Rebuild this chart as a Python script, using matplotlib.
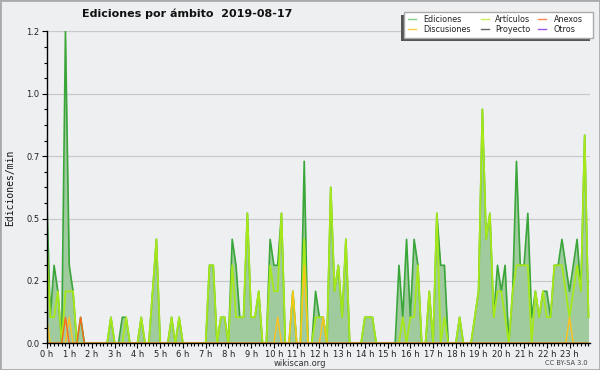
import numpy as np
import matplotlib
matplotlib.use("Agg")
import matplotlib.pyplot as plt
from matplotlib.patches import Rectangle
from matplotlib.lines import Line2D

# ---- data: edits per minute, 10-minute bins (0:00 ... 23:50) ----
ediciones = [
    0.6, 0.1, 0.3, 0.2, 0.0, 1.2, 0.3, 0.2, 0.0, 0.1, 0.0, 0.0,
    0.0, 0.0, 0.0, 0.0, 0.0, 0.1, 0.0, 0.0, 0.1, 0.1, 0.0, 0.0,
    0.0, 0.1, 0.0, 0.0, 0.2, 0.4, 0.0, 0.0, 0.0, 0.1, 0.0, 0.1,
    0.0, 0.0, 0.0, 0.0, 0.0, 0.0, 0.0, 0.3, 0.3, 0.0, 0.1, 0.1,
    0.0, 0.4, 0.3, 0.1, 0.1, 0.5, 0.1, 0.1, 0.2, 0.0, 0.0, 0.4,
    0.3, 0.3, 0.5, 0.0, 0.0, 0.2, 0.0, 0.0, 0.7, 0.0, 0.0, 0.2,
    0.1, 0.1, 0.0, 0.6, 0.2, 0.3, 0.1, 0.4, 0.0, 0.0, 0.0, 0.0,
    0.1, 0.1, 0.1, 0.0, 0.0, 0.0, 0.0, 0.0, 0.0, 0.3, 0.1, 0.4,
    0.1, 0.4, 0.3, 0.0, 0.0, 0.2, 0.0, 0.5, 0.3, 0.3, 0.0, 0.0,
    0.0, 0.1, 0.0, 0.0, 0.0, 0.1, 0.2, 0.9, 0.4, 0.5, 0.1, 0.3,
    0.2, 0.3, 0.0, 0.2, 0.7, 0.3, 0.3, 0.5, 0.1, 0.2, 0.1, 0.2,
    0.2, 0.1, 0.3, 0.3, 0.4, 0.3, 0.2, 0.3, 0.4, 0.2, 0.8, 0.1,
]
articulos = [
    0.4, 0.1, 0.1, 0.2, 0.0, 0.2, 0.2, 0.2, 0.0, 0.0, 0.0, 0.0,
    0.0, 0.0, 0.0, 0.0, 0.0, 0.1, 0.0, 0.0, 0.0, 0.1, 0.0, 0.0,
    0.0, 0.1, 0.0, 0.0, 0.2, 0.4, 0.0, 0.0, 0.0, 0.1, 0.0, 0.1,
    0.0, 0.0, 0.0, 0.0, 0.0, 0.0, 0.0, 0.3, 0.3, 0.0, 0.1, 0.1,
    0.0, 0.3, 0.1, 0.1, 0.1, 0.5, 0.1, 0.1, 0.2, 0.0, 0.0, 0.3,
    0.2, 0.2, 0.5, 0.0, 0.0, 0.2, 0.0, 0.0, 0.4, 0.0, 0.0, 0.1,
    0.1, 0.1, 0.0, 0.6, 0.2, 0.3, 0.1, 0.4, 0.0, 0.0, 0.0, 0.0,
    0.1, 0.1, 0.1, 0.0, 0.0, 0.0, 0.0, 0.0, 0.0, 0.0, 0.1, 0.0,
    0.1, 0.1, 0.3, 0.0, 0.0, 0.2, 0.0, 0.5, 0.0, 0.1, 0.0, 0.0,
    0.0, 0.1, 0.0, 0.0, 0.0, 0.1, 0.2, 0.9, 0.4, 0.5, 0.1, 0.2,
    0.2, 0.1, 0.0, 0.2, 0.3, 0.3, 0.3, 0.3, 0.0, 0.2, 0.1, 0.2,
    0.1, 0.1, 0.3, 0.3, 0.3, 0.2, 0.1, 0.2, 0.3, 0.2, 0.8, 0.1,
]
discusiones = [
    0.1, 0.0, 0.0, 0.0, 0.0, 0.0, 0.1, 0.0, 0.0, 0.0, 0.0, 0.0,
    0.0, 0.0, 0.0, 0.0, 0.0, 0.0, 0.0, 0.0, 0.0, 0.0, 0.0, 0.0,
    0.0, 0.0, 0.0, 0.0, 0.0, 0.0, 0.0, 0.0, 0.0, 0.0, 0.0, 0.0,
    0.0, 0.0, 0.0, 0.0, 0.0, 0.0, 0.0, 0.0, 0.0, 0.0, 0.0, 0.0,
    0.0, 0.0, 0.0, 0.0, 0.0, 0.0, 0.0, 0.0, 0.0, 0.0, 0.0, 0.0,
    0.0, 0.1, 0.0, 0.0, 0.0, 0.2, 0.0, 0.0, 0.3, 0.0, 0.0, 0.0,
    0.0, 0.1, 0.0, 0.0, 0.0, 0.0, 0.0, 0.0, 0.0, 0.0, 0.0, 0.0,
    0.0, 0.0, 0.0, 0.0, 0.0, 0.0, 0.0, 0.0, 0.0, 0.0, 0.0, 0.0,
    0.0, 0.0, 0.0, 0.0, 0.0, 0.0, 0.0, 0.0, 0.0, 0.0, 0.0, 0.0,
    0.0, 0.0, 0.0, 0.0, 0.0, 0.0, 0.0, 0.0, 0.0, 0.0, 0.0, 0.0,
    0.0, 0.0, 0.0, 0.0, 0.0, 0.0, 0.0, 0.0, 0.0, 0.0, 0.0, 0.0,
    0.0, 0.0, 0.0, 0.0, 0.0, 0.0, 0.1, 0.0, 0.0, 0.0, 0.0, 0.0,
]
anexos = [
    0.0, 0.0, 0.0, 0.0, 0.0, 0.1, 0.0, 0.0, 0.0, 0.1, 0.0, 0.0,
] + [0.0] * 132

hour_labels = [f"{h} h" for h in range(24)]
y_ticks = [0.0, 0.24, 0.48, 0.72, 0.96, 1.2]
y_tick_labels = ["0.0", "0.2", "0.5", "0.7", "1.0", "1.2"]
legend_labels = ["Ediciones", "Discusiones", "Artículos", "Proyecto", "Anexos", "Otros"]
legend_colors = ["#88cc88", "#ffcc44", "#ccee55", "#666666", "#ff8855", "#9955ee"]

W, H = 600, 370
BG = "#eeeff1"

fig = plt.figure(figsize=(W / 100, H / 100), dpi=100, facecolor=BG)

def fx(px):
    return px / W

def fy(py):
    return 1 - py / H

ax_left, ax_right, ax_top, ax_bottom = 46.5, 590, 31.3, 343.3
ax = fig.add_axes([fx(ax_left), fy(ax_bottom), fx(ax_right - ax_left), (ax_bottom - ax_top) / H])
ax.set_facecolor(BG)

x = np.arange(len(ediciones)) / 6.0

ax.fill_between(x, ediciones, 0, color="#9fcb9f", lw=0, zorder=2)
ax.plot(x, ediciones, color="#3aa63a", lw=1.2, zorder=3)
ax.plot(x, articulos, color="#a6e81a", lw=1.3, zorder=4)
ax.plot(x, discusiones, color="#ffc21a", lw=1.0, zorder=5)
ax.plot(x, anexos, color="#ff6a1a", lw=1.0, zorder=6)

ax.set_xlim(0, (ax_right - ax_left) / 22.74)
ax.set_ylim(0, 1.2)

ax.set_yticks(y_ticks)
ax.set_yticklabels(y_tick_labels)
ax.set_yticks(np.arange(0, 1.2001, 0.06), minor=True)
ax.set_xticks(np.arange(24))
ax.set_xticklabels(hour_labels)
ax.set_xticks(np.arange(0, 23.9, 1 / 6.0), minor=True)

ax.yaxis.grid(True, which="major", color="#c9c9c9", lw=0.9, zorder=1)
ax.set_axisbelow(True)

for s in ["top", "right"]:
    ax.spines[s].set_visible(False)
for s in ["left", "bottom"]:
    ax.spines[s].set_color("black")
    ax.spines[s].set_linewidth(1.0)
    ax.spines[s].set_zorder(10)

ax.tick_params(axis="both", which="major", length=3.5, width=0.8, colors="black",
               labelsize=6, labelcolor="#222222", pad=1.5, direction="out")
ax.tick_params(axis="x", which="major", pad=1.0)
ax.tick_params(axis="both", which="minor", length=2, width=0.8, colors="black", direction="out")

fig.text(fx(187), fy(14), "Ediciones por ámbito  2019-08-17", ha="center", va="center",
         fontsize=8, fontweight="bold", color="#111111")
fig.text(fx(10), fy(188), "Ediciones/min", rotation=90, ha="center", va="center",
         fontsize=7, family="DejaVu Sans Mono", color="#111111")
fig.text(fx(300), fy(363), "wikiscan.org", ha="center", va="center", fontsize=6, color="#333333")
fig.text(fx(588), fy(363), "CC BY-SA 3.0", ha="right", va="center", fontsize=4.8, color="#444444")

# legend box with shadow
bx0, bx1, by0, by1 = 404, 593, 12, 38
fig.patches.append(Rectangle((fx(bx0 - 3), fy(by1 + 3)), fx(bx1 - bx0), (by1 - by0) / H,
                             transform=fig.transFigure, facecolor="#555555", edgecolor="none", zorder=20))
fig.patches.append(Rectangle((fx(bx0), fy(by1)), fx(bx1 - bx0), (by1 - by0) / H,
                             transform=fig.transFigure, facecolor="white", edgecolor="#aaaaaa",
                             lw=1.0, zorder=21))
col_x = [(408, 423), (481, 495), (538, 554)]
row_y = [19, 29]
for i, (lab, col) in enumerate(zip(legend_labels, legend_colors)):
    c, r = divmod(i, 2)
    hx, tx = col_x[c]
    yy = row_y[r]
    fig.lines.append(Line2D([fx(hx), fx(hx + 8)], [fy(yy), fy(yy)], transform=fig.transFigure,
                            color=col, lw=1.0, zorder=22))
    fig.text(fx(tx), fy(yy), lab, ha="left", va="center", fontsize=5.8, color="#222222", zorder=22)

# outer border
fig.patches.append(Rectangle((0, 0), 1, 1, transform=fig.transFigure, facecolor="none",
                             edgecolor="#aaaaaa", lw=2, zorder=30))

fig.savefig("out.png", dpi=100, facecolor=BG)
